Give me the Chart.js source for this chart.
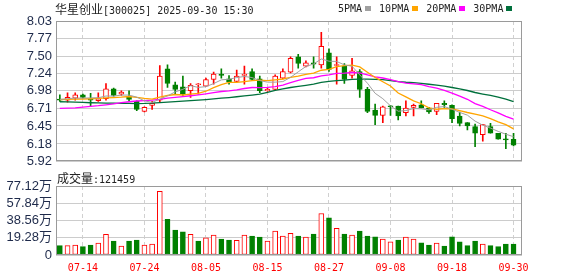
<!DOCTYPE html>
<html><head><meta charset="utf-8">
<script src="https://cdn.jsdelivr.net/npm/chart.js@4.4.0/dist/chart.umd.min.js"></script>
<style>
html,body{margin:0;padding:0;background:#fff;}
#wrap{position:relative;width:578px;height:276px;overflow:hidden;background:#fff}
canvas{position:absolute;left:0}
#main{top:0}
#vol{top:173px}
.txt{position:absolute;white-space:nowrap;color:#222;line-height:14px}
.cjk{font-family:'Noto Sans CJK SC';font-size:12px}
.mono{font-family:'DejaVu Sans Mono';font-size:10px}
.sq{display:inline-block;width:6px;height:5px;margin:0 8px 1px 3px;vertical-align:middle}
</style></head>
<body><div id="wrap">
<canvas id="main" width="578" height="173"></canvas>
<canvas id="vol" width="578" height="103"></canvas>
<div class="txt" style="left:55px;top:2px"><span class="cjk">华星创业</span><span class="mono">[300025] 2025-09-30 15:30</span></div>
<div class="txt mono" style="left:338px;top:2px">5PMA<span class="sq" style="background:#a0a0a0"></span>10PMA<span class="sq" style="background:#ffa500"></span>20PMA<span class="sq" style="background:#ff00ff"></span>30PMA<span class="sq" style="background:#00703c"></span></div>
<div class="txt" style="left:57px;top:171px"><span class="cjk">成交量</span><span class="mono">:121459</span></div>
</div>
<script>
const dates = ['07-09','07-10','07-11','07-14','07-15','07-16','07-17','07-18','07-21','07-22',
 '07-23','07-24','07-25','07-28','07-29','07-30','07-31','08-01','08-04','08-05',
 '08-06','08-07','08-08','08-11','08-12','08-13','08-14','08-15','08-18','08-19',
 '08-20','08-21','08-22','08-25','08-26','08-27','08-28','08-29','09-01','09-02',
 '09-03','09-04','09-05','09-08','09-09','09-10','09-11','09-12','09-15','09-16',
 '09-17','09-18','09-19','09-22','09-23','09-24','09-25','09-26','09-29','09-30'];
const tickDates = ['07-14','07-24','08-05','08-15','08-27','09-08','09-18','09-30'];

const openP = [6.85,6.84,6.87,6.92,6.86,6.83,6.86,7.01,6.93,6.89,
 6.82,6.67,6.76,6.84,7.31,7.07,7.04,6.98,7.07,7.05,
 7.15,7.23,7.16,7.12,7.21,7.27,7.16,6.98,7.00,7.17,
 7.26,7.49,7.35,7.40,7.37,7.55,7.36,7.35,7.21,7.27,
 7.00,6.69,6.61,6.75,6.75,6.65,6.73,6.77,6.72,6.67,
 6.79,6.76,6.60,6.50,6.44,6.32,6.44,6.34,6.24,6.25];
const highP = [6.92,6.95,6.95,6.93,6.94,6.95,7.09,7.02,6.98,6.98,
 6.83,6.74,6.82,7.36,7.37,7.11,7.20,7.09,7.09,7.17,
 7.26,7.31,7.21,7.29,7.35,7.31,7.20,7.02,7.22,7.31,
 7.49,7.53,7.43,7.49,7.86,7.61,7.49,7.39,7.47,7.30,
 7.03,6.78,6.75,6.76,6.75,6.83,6.78,6.83,6.73,6.79,
 6.83,6.77,6.66,6.50,6.48,6.47,6.49,6.34,6.34,6.34];
const lowP = [6.82,6.81,6.84,6.87,6.75,6.82,6.84,6.90,6.91,6.83,
 6.68,6.66,6.70,6.81,7.03,6.93,6.91,6.88,6.93,7.04,
 7.08,7.17,7.08,7.11,7.08,7.14,6.95,6.97,6.99,7.16,
 7.25,7.32,7.34,7.32,7.32,7.27,7.08,7.09,7.17,6.88,
 6.65,6.47,6.50,6.61,6.54,6.60,6.60,6.72,6.64,6.62,
 6.73,6.50,6.45,6.39,6.14,6.22,6.34,6.25,6.11,6.15];
const closeP = [6.84,6.88,6.92,6.88,6.84,6.86,7.01,6.91,6.96,6.85,
 6.70,6.73,6.79,7.20,7.09,7.00,6.93,7.06,7.07,7.15,
 7.23,7.21,7.11,7.20,7.23,7.15,6.98,7.00,7.20,7.27,
 7.47,7.39,7.40,7.38,7.65,7.30,7.37,7.15,7.28,7.00,
 6.67,6.61,6.74,6.74,6.60,6.72,6.76,6.72,6.66,6.79,
 6.77,6.56,6.49,6.45,6.34,6.47,6.34,6.25,6.24,6.16];

const ma5 = [6.85,6.86,6.87,6.87,6.873,6.875,6.901,6.900,6.915,6.915,
 6.884,6.829,6.805,6.854,6.903,6.963,7.002,7.056,7.031,7.042,
 7.088,7.144,7.154,7.179,7.195,7.179,7.133,7.110,7.110,7.118,
 7.182,7.265,7.346,7.383,7.459,7.425,7.421,7.370,7.349,7.219,
 7.094,6.942,6.861,6.753,6.672,6.682,6.712,6.708,6.692,6.731,
 6.742,6.702,6.655,6.613,6.523,6.462,6.418,6.369,6.326,6.289];
const ma10 = [6.846,6.850,6.853,6.856,6.860,6.865,6.872,6.878,6.884,6.894,
 6.880,6.865,6.853,6.885,6.909,6.924,6.916,6.930,6.942,6.973,
 7.026,7.073,7.105,7.105,7.119,7.134,7.139,7.132,7.144,7.157,
 7.180,7.199,7.228,7.247,7.289,7.303,7.343,7.358,7.366,7.339,
 7.260,7.181,7.115,7.051,6.946,6.888,6.827,6.785,6.723,6.702,
 6.712,6.707,6.682,6.653,6.627,6.602,6.560,6.512,6.470,6.406];
const ma20 = [6.715,6.718,6.722,6.735,6.745,6.755,6.768,6.782,6.800,6.815,
 6.826,6.832,6.840,6.852,6.868,6.880,6.893,6.905,6.918,6.933,
 6.953,6.969,6.979,6.995,7.014,7.029,7.027,7.031,7.043,7.065,
 7.103,7.136,7.167,7.176,7.204,7.219,7.241,7.245,7.255,7.248,
 7.220,7.190,7.172,7.149,7.117,7.096,7.085,7.071,7.044,7.021,
 6.986,6.944,6.899,6.852,6.786,6.745,6.694,6.648,6.596,6.554];
const ma30 = [6.815,6.812,6.808,6.805,6.800,6.797,6.795,6.793,6.790,6.789,
 6.788,6.790,6.795,6.803,6.810,6.818,6.825,6.833,6.840,6.848,
 6.858,6.868,6.878,6.890,6.902,6.915,6.930,6.955,6.985,7.008,
 7.029,7.046,7.062,7.079,7.106,7.120,7.132,7.140,7.151,7.156,
 7.155,7.151,7.149,7.134,7.118,7.108,7.103,7.092,7.078,7.066,
 7.051,7.029,7.008,6.984,6.954,6.931,6.910,6.885,6.853,6.816];

// volume in 万手
const volume = [10.4,10.4,11.1,9.3,11.1,13.3,23.0,15.6,10.0,15.6,
 16.7,11.1,12.2,71.2,40.0,27.8,26.0,23.0,15.6,19.3,
 22.2,17.8,16.7,16.3,22.2,21.1,20.0,15.6,26.7,21.1,
 24.1,21.1,20.0,23.4,46.4,41.5,29.7,23.4,22.2,26.7,
 21.1,20.4,17.8,14.8,16.7,20.0,17.8,13.7,11.1,13.3,
 10.0,20.4,14.8,10.4,15.6,12.2,10.4,9.3,12.2,12.1459];
const volumeUp = [0,1,1,0,0,1,1,0,1,0, 0,1,1,1,0,0,0,1,0,1,
 1,0,0,1,1,0,0,1,1,1, 1,0,1,0,1,0,1,0,1,0,
 0,0,1,1,0,1,1,0,0,1, 0,0,0,0,0,1,0,0,0,0];

const priceTicks = [5.92,6.18,6.45,6.71,6.98,7.24,7.50,7.77,8.03];
const volumeTicks = [0,19.28,38.56,57.84,77.12];

const RED = '#ff0000', GREEN = '#008000', LABEL = '#1e2a4a';
const candleUp = closeP.map((c,i)=> c>openP[i] || (c===openP[i] && (i===0 || c>=closeP[i-1])));
const xy = arr => arr.map((v,i)=>({x:i,y:v}));

const frame = { id:'frame', afterDatasetsDraw(c){ const {ctx, chartArea:a} = c; ctx.save(); ctx.setLineDash([]);
  ctx.strokeStyle='#9a9a9a'; ctx.lineWidth=1;
  ctx.strokeRect(Math.round(a.left)+0.5, Math.round(a.top)+0.5, Math.round(a.right-a.left)-1, Math.round(a.bottom-a.top)-1);
  ctx.restore(); } };

function xScale(showLabels){
  return { type:'linear', min:-0.5, max:60.1, offset:false,
    afterBuildTicks: s => { s.ticks = tickDates.map(d=>({value: dates.indexOf(d)})); },
    grid:{color:'#d0d0d0', lineWidth:1, drawTicks:false, offset:false},
    border:{display:false, dash:[4,3]},
    ticks:{display:showLabels, autoSkip:false, maxRotation:0, minRotation:0, padding:7, color:RED,
      font:{family:'DejaVu Sans Mono', size:10}, callback: v => dates[v]},
    afterFit: s => { s.height = showLabels ? 21 : 8; } };
}
function yScale(min, max, tickVals, fmt){
  return { type:'linear', position:'left', min, max, beginAtZero:false,
    afterBuildTicks: s => { s.ticks = tickVals.map(v=>({value:v})); },
    ticks:{color:LABEL, autoSkip:false, font:{family:"'Liberation Sans','Noto Sans CJK SC'", size:13}, padding:4, callback: fmt},
    grid:{color:'#cccccc', lineWidth:1, drawTicks:false},
    border:{display:false},
    afterFit: s => { s.width = 56; } };
}
const common = { responsive:false, animation:false, devicePixelRatio:1, events:[],
  plugins:{legend:{display:false}, tooltip:{enabled:false}, title:{display:false}} };

const lineDs = (label, data, color, w) => ({type:'line', label, data: xy(data), borderColor:color, borderWidth:w,
  pointRadius:0, tension:0, fill:false, order:0});

new Chart(document.getElementById('main'), {
  type:'bar',
  data:{ datasets:[
    lineDs('5PMA', ma5, '#a0a0a0', 1),
    lineDs('10PMA', ma10, '#ffa500', 1.3),
    lineDs('20PMA', ma20, '#ff00ff', 1.3),
    lineDs('30PMA', ma30, '#00703c', 1.3),
    {type:'bar', label:'body', data: openP.map((o,i)=>({x:i, y:[o, closeP[i]]})),
      backgroundColor: candleUp.map(u=>u?'#ffffff':GREEN), borderColor: candleUp.map(u=>u?RED:GREEN),
      borderWidth:1, borderSkipped:false, barThickness:5, minBarLength:1, grouped:false, order:1},
    {type:'bar', label:'wick', data: lowP.map((l,i)=>({x:i, y:[l, highP[i]]})),
      backgroundColor: candleUp.map(u=>u?RED:GREEN), borderWidth:0, barThickness:1, grouped:false, order:2}
  ]},
  options:{ ...common,
    layout:{padding:{top:21, right:56, left:0, bottom:0}},
    scales:{ x: xScale(false), y: yScale(5.92, 8.03, priceTicks, v => v.toFixed(2)) } },
  plugins:[frame]
});

new Chart(document.getElementById('vol'), {
  type:'bar',
  data:{ datasets:[
    {type:'bar', label:'成交量', data: xy(volume),
      backgroundColor: volumeUp.map(u=>u?'#ffffff':GREEN), borderColor: volumeUp.map(u=>u?RED:GREEN),
      borderWidth:1, borderSkipped:false, barThickness:5, grouped:false}
  ]},
  options:{ ...common,
    layout:{padding:{top:13, right:56, left:0, bottom:0}},
    scales:{ x: xScale(true), y: yScale(0, 77.12, volumeTicks, v => v===0 ? '0' : v.toFixed(2)+'万') } },
  plugins:[frame]
});
</script>
</body></html>
